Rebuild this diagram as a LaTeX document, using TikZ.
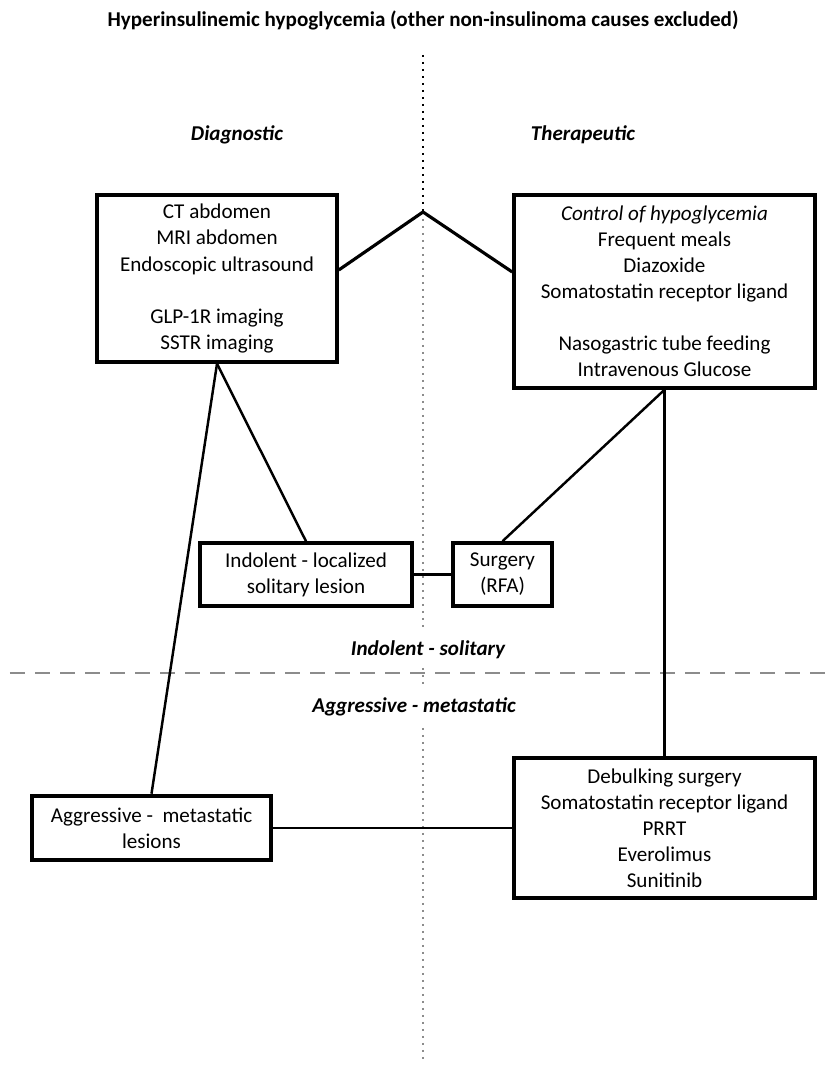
\documentclass[tikz,border=0pt]{standalone}
\usepackage{fontspec}
\setmainfont{Carlito}
\usetikzlibrary{positioning}

\begin{document}
\begin{tikzpicture}[
  txt/.style={font=\fontsize{12}{14.8}\selectfont,align=center},
  bx/.style={txt,draw,line width=2pt,inner sep=0pt},
  conn/.style={line width=1.4pt},
  grayline/.style={black!45,line width=1.6pt,dash pattern=on 0.05cm off 0.09cm}
]
\useasboundingbox (0,0) rectangle (16.56,21.32);

% title and column heads
\node[txt,font=\fontsize{12}{14.8}\selectfont\bfseries] (title) at (8.46,20.92) {Hyperinsulinemic hypoglycemia (other non-insulinoma causes excluded)};
\node[txt,font=\fontsize{12}{14.8}\selectfont\bfseries\itshape] (diaghead) at (4.74,18.62) {Diagnostic};
\node[txt,font=\fontsize{12}{14.8}\selectfont\bfseries\itshape] (therhead) at (11.66,18.62) {Therapeutic};

% separators
\draw[line width=1.6pt,dash pattern=on 0.05cm off 0.09cm] (8.46,20.22) -- (8.46,17.08);
\draw[grayline] (8.46,17.08) -- (8.46,8.76);
\draw[grayline] (8.46,7.96) -- (8.46,7.56);
\draw[grayline] (8.46,6.76) -- (8.46,0.08);
\draw[black!45,line width=1.7pt,dash pattern=on 0.3cm off 0.2cm] (0.2,7.86) -- (16.56,7.86);
\node[txt,font=\fontsize{12}{14.8}\selectfont\bfseries\itshape] (indohead) at (8.56,8.32) {Indolent - solitary};
\node[txt,font=\fontsize{12}{14.8}\selectfont\bfseries\itshape] (aggrhead) at (8.28,7.18) {Aggressive - metastatic};

% boxes
\node[bx,minimum width=4.8cm,minimum height=3.34cm] (diag) at (4.34,15.75) {CT abdomen\\MRI abdomen\\Endoscopic ultrasound\\[14.8pt]GLP-1R imaging\\SSTR imaging};
\node[bx,minimum width=6.02cm,minimum height=3.86cm] (ther) at (13.29,15.49) {\textit{Control of hypoglycemia}\\Frequent meals\\Diazoxide\\Somatostatin receptor ligand\\[14.8pt]Nasogastric tube feeding\\Intravenous Glucose};
\node[bx,minimum width=4.24cm,minimum height=1.26cm] (indo) at (6.12,9.83) {Indolent - localized\\solitary lesion};
\node[bx,minimum width=1.98cm,minimum height=1.26cm] (surg) at (10.05,9.83) {Surgery\\(RFA)};
\node[bx,line width=2.6pt,minimum width=4.78cm,minimum height=1.28cm] (aggr) at (3.03,4.76) {Aggressive -\ \ metastatic\\lesions};
\node[bx,minimum width=6.02cm,minimum height=2.8cm] (debul) at (13.29,4.76) {Debulking surgery\\Somatostatin receptor ligand\\PRRT\\Everolimus\\Sunitinib};

% connectors
\coordinate (top) at (8.46,17.08);
\draw[line width=1.8pt] ([yshift=0.17cm]diag.east) -- (top) -- ([yshift=0.39cm]ther.west);
\draw[conn] (diag.south) -- (indo.north);
\draw[conn] (diag.south) -- (aggr.north);
\draw[conn,line width=1.2pt] (indo.east) -- (surg.west);
\draw[conn] (ther.south) -- (surg.north);
\draw[conn] (ther.south) -- (debul.north);
\draw[conn] (aggr.east) -- (debul.west);

\end{tikzpicture}
\end{document}
